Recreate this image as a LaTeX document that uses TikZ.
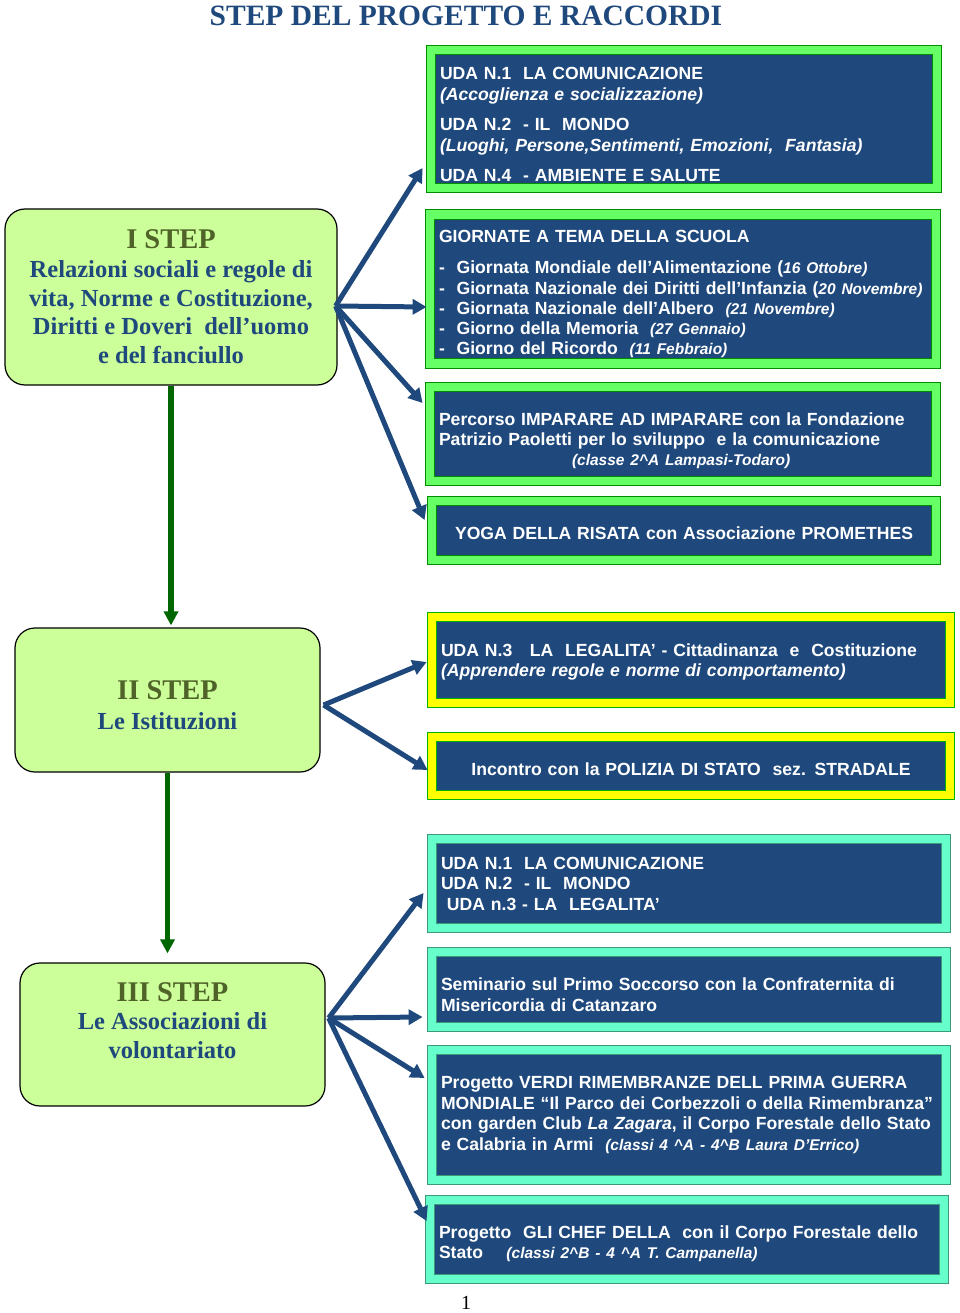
\documentclass[tikz,border=0pt]{standalone}
\usepackage{fontspec}
\setmainfont{Liberation Serif}
\newfontfamily\boxfont{Liberation Sans}
\usetikzlibrary{arrows.meta}
\definecolor{udablue}{RGB}{31,73,125}
\definecolor{stepgreen}{RGB}{204,255,153}
\definecolor{stepolive}{RGB}{79,98,40}
\definecolor{framegreen}{RGB}{102,255,102}
\definecolor{frameaqua}{RGB}{102,255,204}
\definecolor{frameyellow}{RGB}{255,255,0}
\definecolor{arrowgreen}{RGB}{0,102,0}
\newcommand{\crt}{\textasciicircum}
\newcommand{\smit}[1]{{\fontsize{15.5}{18}\selectfont\itshape #1}}

\tikzset{
 stepbox/.style={rectangle, rounded corners=20pt, draw=black, line width=1.2pt, fill=stepgreen,
   align=center, text=udablue, font=\fontsize{24.5}{28.7}\selectfont\bfseries},
 uda/.style={rectangle, fill=udablue, line width=0.8pt, double distance=8.5pt, text=white,
   align=left, inner xsep=9pt, inner ysep=0pt, font=\boxfont\fontsize{17.6}{20.5}\selectfont\bfseries},
 greenbox/.style={uda, draw=green!55!black, double=framegreen},
 yellowbox/.style={uda, draw=green!70!black, double=frameyellow},
 aquabox/.style={uda, draw=frameaqua!60!black, double=frameaqua},
 bluearrow/.style={draw=udablue, line width=5pt, -{Triangle[length=14pt,width=15pt]}},
 downarrow/.style={draw=arrowgreen, line width=5.5pt, -{Triangle[length=14pt,width=14pt]}}
}

\begin{document}
\begin{tikzpicture}[x=1pt,y=-1pt]
\useasboundingbox (0,0) rectangle (960,1313);

\node (title) at (466,16) {\fontsize{29.5}{30}\selectfont\bfseries\color{udablue}STEP DEL PROGETTO E RACCORDI};

% steps
\node[stepbox, minimum width=332pt, minimum height=176pt] (s1) at (171,297)
 {{\color{stepolive}\fontsize{28.5}{30}\selectfont I STEP}\\Relazioni sociali e regole di\\vita, Norme e Costituzione,\\Diritti e Doveri\ \ dell’uomo\\e del fanciullo};
\node[stepbox, minimum width=305pt, minimum height=144pt, text height=60pt, font=\fontsize{24.5}{30}\selectfont\bfseries] (s2) at (167.5,700)
 {{\color{stepolive}\fontsize{28.5}{30}\selectfont II STEP}\\Le Istituzioni};
\node[stepbox, minimum width=305pt, minimum height=143pt, text depth=28pt] (s3) at (172.5,1034.5)
 {{\color{stepolive}\fontsize{28.5}{30}\selectfont III STEP}\\Le Associazioni di\\volontariato};

% boxes of step I
\node[greenbox, text width=488pt, minimum height=138pt, text height=23pt, font=\boxfont\fontsize{17.6}{21}\selectfont\bfseries] (a) at (684,119)
 {UDA N.1\ \ LA COMUNICAZIONE\\\textit{(Accoglienza e socializzazione)}\\[9pt]
  UDA N.2\ \ - IL\ \ MONDO\\\textit{(Luoghi, Persone,Sentimenti, Emozioni,\ \ Fantasia)}\\[9pt]
  UDA N.4\ \ - AMBIENTE E SALUTE};
\node[greenbox, text width=488pt, minimum height=149pt, text height=23pt, font=\boxfont\fontsize{17.6}{20.3}\selectfont\bfseries] (b) at (683,289)
 {GIORNATE A TEMA DELLA SCUOLA\\[10.7pt]
  -\ \ Giornata Mondiale dell’Alimentazione (\smit{16 Ottobre)}\\
  -\ \ Giornata Nazionale dei Diritti dell’Infanzia (\smit{20 Novembre)}\\
  -\ \ Giornata Nazionale dell’Albero\ \ \smit{(21 Novembre)}\\
  -\ \ Giorno della Memoria\ \ \smit{(27 Gennaio)}\\
  -\ \ Giorno del Ricordo\ \ \smit{(11 Febbraio)}};
\node[greenbox, text width=488pt, minimum height=94pt, text height=27pt, font=\boxfont\fontsize{17.6}{20}\selectfont\bfseries] (c) at (683,434)
 {Percorso IMPARARE AD IMPARARE con la Fondazione\\
  Patrizio Paoletti per lo sviluppo\ \ e la comunicazione\\
  \hspace*{133pt}\smit{(classe 2\crt A Lampasi-Todaro)}};
\node[greenbox, text width=486pt, minimum height=59pt, text height=19pt, align=center] (d) at (684,530.5)
 {YOGA DELLA RISATA con Associazione PROMETHES};

% boxes of step II
\node[yellowbox, text width=500pt, minimum height=86pt, text height=17pt] (e) at (691,660)
 {UDA N.3\ \ \ LA\ \ LEGALITA’ - Cittadinanza\ \ e\ \ Costituzione\\
  \textit{(Apprendere regole e norme di comportamento)}};
\node[yellowbox, text width=500pt, minimum height=58pt, text height=19pt, align=center] (f) at (691,766)
 {Incontro con la POLIZIA DI STATO\ \ sez. STRADALE};

% boxes of step III
\node[aquabox, text width=496pt, minimum height=89pt] (g) at (689,883.5)
 {UDA N.1\ \ LA COMUNICAZIONE\\UDA N.2\ \ - IL\ \ MONDO\\\ UDA n.3 - LA\ \ LEGALITA’};
\node[aquabox, text width=496pt, minimum height=75pt, text height=23pt] (h) at (689,989.5)
 {Seminario sul Primo Soccorso con la Confraternita di\\Misericordia di Catanzaro};
\node[aquabox, text width=496pt, minimum height=130pt] (i) at (689,1115)
 {Progetto VERDI RIMEMBRANZE DELL PRIMA GUERRA\\
  MONDIALE “Il Parco dei Corbezzoli o della Rimembranza”\\
  con garden Club \textit{La Zagara}, il Corpo Forestale dello Stato\\
  e Calabria in Armi\ \ \smit{(classi 4 \crt A - 4\crt B Laura D’Errico)}};
\node[aquabox, text width=496pt, minimum height=79pt, text height=21pt] (j) at (687,1239.5)
 {Progetto\ \ GLI CHEF DELLA\ \ con il Corpo Forestale dello\\
  Stato\ \ \ \ \smit{(classi 2\crt B - 4 \crt A T. Campanella)}};

\node (page) at (466,1303) {\fontsize{20}{20}\selectfont 1};

% connectors
\coordinate (h1) at ([xshift=-2pt,yshift=-9pt]s1.east);
\coordinate (h2) at ([xshift=3pt,yshift=-5pt]s2.east);
\coordinate (h3) at ([xshift=3pt,yshift=16.5pt]s3.east);

\draw[bluearrow] (h1) -- ([xshift=-8pt,yshift=-49pt]a.west);
\draw[bluearrow] (h1) -- ([xshift=-3pt,yshift=-18pt]b.west);
\draw[bluearrow] (h1) -- ([xshift=-7pt,yshift=31pt]c.west);
\draw[bluearrow] (h1) -- ([xshift=-7pt,yshift=10.5pt]d.west);

\draw[bluearrow] (h2) -- ([xshift=-5pt,yshift=-2pt]e.west);
\draw[bluearrow] (h2) -- ([xshift=-4pt,yshift=-4pt]f.west);

\draw[bluearrow] (h3) -- ([xshift=-8pt,yshift=-9.5pt]g.west);
\draw[bluearrow] (h3) -- ([xshift=-9pt,yshift=-27.5pt]h.west);
\draw[bluearrow] (h3) -- ([xshift=-7pt,yshift=37pt]i.west);
\draw[bluearrow] (h3) -- ([xshift=-3pt,yshift=18.5pt]j.west);

\draw[downarrow, shorten >=2pt] (s1.south) -- (s1.south |- s2.north);
\draw[downarrow, shorten >=9pt] (s2.south) -- (s2.south |- s3.north);
\end{tikzpicture}
\end{document}
